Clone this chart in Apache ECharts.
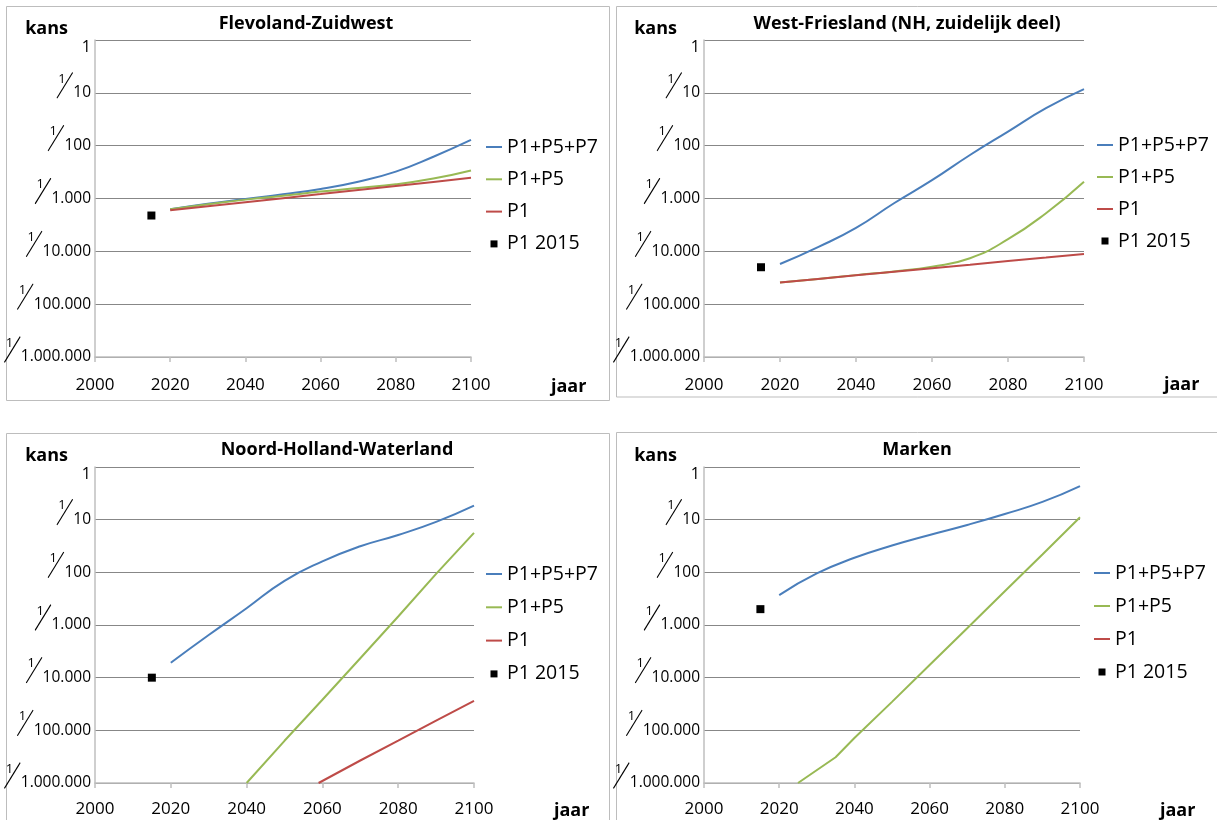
<!DOCTYPE html>
<html>
<head>
<meta charset="utf-8">
<script src="https://cdn.jsdelivr.net/npm/echarts@6/dist/echarts.min.js"></script>
<style>
  html, body { margin: 0; padding: 0; background: #fff; }
  #chart { width: 1217px; height: 820px; }
</style>
</head>
<body>
<div id="chart"></div>
<script>
// Kans per jaar, stored as return periods N (probability = 1/N)
const decadeYears = [2020, 2030, 2040, 2050, 2060, 2070, 2080, 2090, 2100];
const tickDenominators = ['1', '10', '100', '1.000', '10.000', '100.000', '1.000.000'];
const seriesNames = ['P1+P5+P7', 'P1+P5', 'P1', 'P1 2015'];

// Flevoland-Zuidwest
const flevolandP1P5P7 = [1600, 1260, 1020, 830, 660, 480, 310, 162, 78];
const flevolandP1P5 = [1600, 1290, 1050, 890, 740, 630, 540, 420, 295];
const flevolandP1 = [1675, 1400, 1175, 985, 825, 690, 580, 485, 405];
const flevolandP1in2015 = 2100;

// West-Friesland (NH, zuidelijk deel)
const westFrieslandP1P5P7 = [17400, 8300, 3600, 1230, 450, 150, 54, 19.5, 8.5];
const westFrieslandP1P5 = [38900, 33300, 28200, 24000, 19500, 13500, 5900, 1900, 480];
const westFrieslandP1 = [38900, 33300, 28500, 24400, 20900, 17900, 15300, 13100, 11200];
const westFrieslandP1in2015 = 20000;

// Noord-Holland-Waterland
const waterlandP1P5P7 = [5200, 1550, 480, 145, 62, 32, 19.5, 11, 5.4];
const waterlandP1P5Years = [2040, 2050, 2060, 2070, 2080, 2090, 2100];
const waterlandP1P5 = [1000000, 158000, 26300, 4270, 690, 107, 17.8];
const waterlandP1Years = [2059, 2070, 2080, 2090, 2100];
const waterlandP1 = [1000000, 374000, 157000, 65600, 27500];
const waterlandP1in2015 = 10000;

// Marken
const markenP1P5P7 = [270, 105, 53, 31, 19.5, 12.6, 7.8, 4.6, 2.3];
const markenP1P5Years = [2025, 2035, 2040, 2050, 2060, 2070, 2080, 2090, 2100];
const markenP1P5 = [1000000, 324000, 140000, 28800, 5750, 1150, 229, 45.7, 9.0];
const markenP1Years = [];
const markenP1 = [];
const markenP1in2015 = 500;

const COLORS = ['#4A7EBB', '#98B954', '#BE4B48', '#000000'];
const FONT = "'Open Sans', 'Liberation Sans', sans-serif";

// thin diagonal stroke used as the fraction bar in the y tick labels
const SLASH_SVG = "<svg xmlns='http://www.w3.org/2000/svg' width='17' height='27' viewBox='0 0 17 27' preserveAspectRatio='none'>" +
  "<line x1='0.6' y1='26.4' x2='16.4' y2='0.6' stroke='#000' stroke-width='1.1'/></svg>";
const SLASH_IMG = 'data:image/svg+xml;charset=utf-8,' + encodeURIComponent(SLASH_SVG);

function toPairs(years, periods) {
  return years.map((y, i) => [y, 1 / periods[i]]);
}

// "1" sits in the top-left corner of the fraction bar, the denominator follows it
function fracLabel(v) {
  const k = Math.round(-Math.log10(v));
  if (k <= 0) return '{one|' + tickDenominators[0] + '}';
  return '{s|1}{d|' + tickDenominators[k] + '}';
}

const panels = [
  {
    title: 'Flevoland-Zuidwest', titleX: 306, titleY: 15,
    grid: { left: 95, top: 40, width: 376, height: 317 },
    legend: { left: 486, top: 136, itemGap: 10.3 },
    xLabelMargin: 20, xNamePad: 21,
    lines: [
      { years: decadeYears, values: flevolandP1P5P7, smooth: 0.5 },
      { years: decadeYears, values: flevolandP1P5, smooth: 0.5 },
      { years: decadeYears, values: flevolandP1, smooth: false }
    ],
    point: flevolandP1in2015
  },
  {
    title: 'West-Friesland (NH, zuidelijk deel)', titleX: 907, titleY: 15,
    grid: { left: 704, top: 40, width: 380, height: 317 },
    legend: { left: 1097, top: 134, itemGap: 10 },
    xLabelMargin: 20, xNamePad: 19,
    lines: [
      { years: decadeYears, values: westFrieslandP1P5P7, smooth: 0.5 },
      { years: decadeYears, values: westFrieslandP1P5, smooth: 0.5 },
      { years: decadeYears, values: westFrieslandP1, smooth: false }
    ],
    point: westFrieslandP1in2015
  },
  {
    title: 'Noord-Holland-Waterland', titleX: 337, titleY: 441,
    grid: { left: 95, top: 467, width: 379, height: 316 },
    legend: { left: 486, top: 563, itemGap: 11.3 },
    xLabelMargin: 18, xNamePad: 19,
    lines: [
      { years: decadeYears, values: waterlandP1P5P7, smooth: 0.5 },
      { years: waterlandP1P5Years, values: waterlandP1P5, smooth: false },
      { years: waterlandP1Years, values: waterlandP1, smooth: false }
    ],
    point: waterlandP1in2015
  },
  {
    title: 'Marken', titleX: 917, titleY: 441,
    grid: { left: 704, top: 467, width: 376, height: 316 },
    legend: { left: 1094, top: 562, itemGap: 11 },
    xLabelMargin: 18, xNamePad: 19,
    lines: [
      { years: decadeYears, values: markenP1P5P7, smooth: 0.5 },
      { years: markenP1P5Years, values: markenP1P5, smooth: false },
      { years: markenP1Years, values: markenP1, smooth: false }
    ],
    point: markenP1in2015
  }
];

const option = {
  animation: false,
  backgroundColor: '#ffffff',
  textStyle: { fontFamily: FONT, color: '#000' },
  title: [], grid: [], xAxis: [], yAxis: [], legend: [], series: [],
  graphic: [
    { type: 'rect', shape: { x: 6.5, y: 6.5, width: 603, height: 394 }, style: { fill: 'none', stroke: '#BDBDBD', lineWidth: 1 }, z: -1 },
    { type: 'rect', shape: { x: 616.5, y: 6.5, width: 700, height: 390.5 }, style: { fill: 'none', stroke: '#BDBDBD', lineWidth: 1 }, z: -1 },
    { type: 'rect', shape: { x: 6.5, y: 433.5, width: 603, height: 500 }, style: { fill: 'none', stroke: '#BDBDBD', lineWidth: 1 }, z: -1 },
    { type: 'rect', shape: { x: 616.5, y: 432.5, width: 700, height: 500 }, style: { fill: 'none', stroke: '#BDBDBD', lineWidth: 1 }, z: -1 }
  ]
};

panels.forEach((p, i) => {
  option.title.push({
    text: p.title, left: p.titleX, top: p.titleY, textAlign: 'center', padding: 0,
    textStyle: { fontFamily: FONT, fontWeight: 'bold', fontSize: 18, color: '#000' }
  });
  option.grid.push(Object.assign({ containLabel: false, outerBoundsMode: 'none' }, p.grid));
  option.xAxis.push({
    type: 'value', gridIndex: i, min: 2000, max: 2100, interval: 20,
    name: 'jaar', nameLocation: 'end', nameGap: 80,
    nameTextStyle: { fontFamily: FONT, fontWeight: 'bold', fontSize: 18, color: '#000', align: 'left', verticalAlign: 'top', padding: [p.xNamePad, 0, 0, 0] },
    axisLine: { show: true, lineStyle: { color: '#BFBFBF', width: 1.5 } },
    axisTick: { show: true, inside: false, length: 5, lineStyle: { color: '#BFBFBF', width: 1.5 } },
    axisLabel: { fontFamily: FONT, fontSize: 17, color: '#000', margin: p.xLabelMargin, formatter: (v) => String(v) },
    splitLine: { show: false }
  });
  option.yAxis.push({
    type: 'log', logBase: 10, gridIndex: i, min: 1e-6, max: 1, splitNumber: 6,
    name: 'kans', nameLocation: 'end', nameGap: 11,
    nameTextStyle: { fontFamily: FONT, fontWeight: 'bold', fontSize: 18, color: '#000', align: 'right', verticalAlign: 'middle', padding: [0, 27, 0, 0] },
    axisLine: { show: true, lineStyle: { color: '#BFBFBF', width: 1.5 } },
    axisTick: { show: false },
    splitLine: { show: true, lineStyle: { color: '#878787', width: 1 } },
    axisLabel: {
      margin: 4, color: '#000', formatter: fracLabel,
      rich: {
        one: { fontFamily: FONT, fontSize: 16, color: '#000', padding: [14, 0, 0, 0] },
        s: {
          fontFamily: FONT, fontSize: 13, color: '#000', align: 'left', verticalAlign: 'top',
          width: 15, height: 14, lineHeight: 14, padding: [0, 0, 13, 2],
          backgroundColor: { image: SLASH_IMG }
        },
        d: { fontFamily: FONT, fontSize: 15.5, color: '#000', verticalAlign: 'middle', lineHeight: 42 }
      }
    }
  });
  option.legend.push({
    orient: 'vertical', left: p.legend.left, top: p.legend.top, itemGap: p.legend.itemGap,
    itemWidth: 16, itemHeight: 7, padding: 0, selectedMode: false,
    textStyle: { fontFamily: FONT, fontSize: 19.5, color: '#000', lineHeight: 22 },
    data: [
      { name: seriesNames[0], icon: 'path://M0,3H16V5H0Z' },
      { name: seriesNames[1], icon: 'path://M0,3H16V5H0Z' },
      { name: seriesNames[2], icon: 'path://M0,3H16V5H0Z' },
      { name: seriesNames[3], icon: 'path://M0,0H7V7H0Z' }
    ]
  });
  p.lines.forEach((ln, j) => {
    option.series.push({
      type: 'line', name: seriesNames[j], xAxisIndex: i, yAxisIndex: i,
      data: toPairs(ln.years, ln.values), smooth: ln.smooth,
      symbol: 'none', showSymbol: false,
      lineStyle: { color: COLORS[j], width: 2 }, itemStyle: { color: COLORS[j] }
    });
  });
  option.series.push({
    type: 'scatter', name: seriesNames[3], xAxisIndex: i, yAxisIndex: i,
    data: [[2015, 1 / p.point]], symbol: 'rect', symbolSize: 8,
    itemStyle: { color: COLORS[3], opacity: 1 }
  });
});

const chart = echarts.init(document.getElementById('chart'), null, { renderer: 'canvas' });
chart.setOption(option);
</script>
</body>
</html>
